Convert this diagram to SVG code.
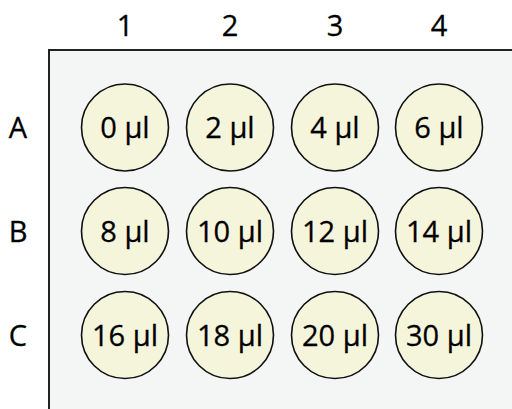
<svg xmlns="http://www.w3.org/2000/svg" width="512" height="409" viewBox="0 0 512 409">
<style>
text{font-family:"Open Sans","Noto Sans",sans-serif;font-size:29px;fill:#000;text-anchor:middle;stroke:#000;stroke-width:0.3}
.well{fill:#f5f5dc;stroke:#111;stroke-width:1.6}
</style>
<rect width="512" height="409" fill="#fff"/>
<g id="plate"><rect x="49" y="50" width="470" height="370" fill="#f4f6f6" stroke="#222" stroke-width="2"/></g>
<g id="col-labels">
<text x="125" y="36">1</text><text x="230" y="36">2</text><text x="335" y="36">3</text><text x="439" y="36">4</text>
</g>
<g id="row-labels">
<text x="18" y="138">A</text><text x="18" y="242">B</text><text x="18" y="346">C</text>
</g>
<g id="A1"><circle class="well" cx="125" cy="127.5" r="43.5"/><text x="125" y="138">0 μl</text></g>
<g id="A2"><circle class="well" cx="230" cy="127.5" r="43.5"/><text x="230" y="138">2 μl</text></g>
<g id="A3"><circle class="well" cx="335" cy="127.5" r="43.5"/><text x="335" y="138">4 μl</text></g>
<g id="A4"><circle class="well" cx="439" cy="127.5" r="43.5"/><text x="439" y="138">6 μl</text></g>
<g id="B1"><circle class="well" cx="125" cy="231" r="43.5"/><text x="125" y="242">8 μl</text></g>
<g id="B2"><circle class="well" cx="230" cy="231" r="43.5"/><text x="230" y="242">10 μl</text></g>
<g id="B3"><circle class="well" cx="335" cy="231" r="43.5"/><text x="335" y="242">12 μl</text></g>
<g id="B4"><circle class="well" cx="439" cy="231" r="43.5"/><text x="439" y="242">14 μl</text></g>
<g id="C1"><circle class="well" cx="125" cy="335" r="43.5"/><text x="125" y="346">16 μl</text></g>
<g id="C2"><circle class="well" cx="230" cy="335" r="43.5"/><text x="230" y="346">18 μl</text></g>
<g id="C3"><circle class="well" cx="335" cy="335" r="43.5"/><text x="335" y="346">20 μl</text></g>
<g id="C4"><circle class="well" cx="439" cy="335" r="43.5"/><text x="439" y="346">30 μl</text></g>
<g id="connectors"/>
</svg>
